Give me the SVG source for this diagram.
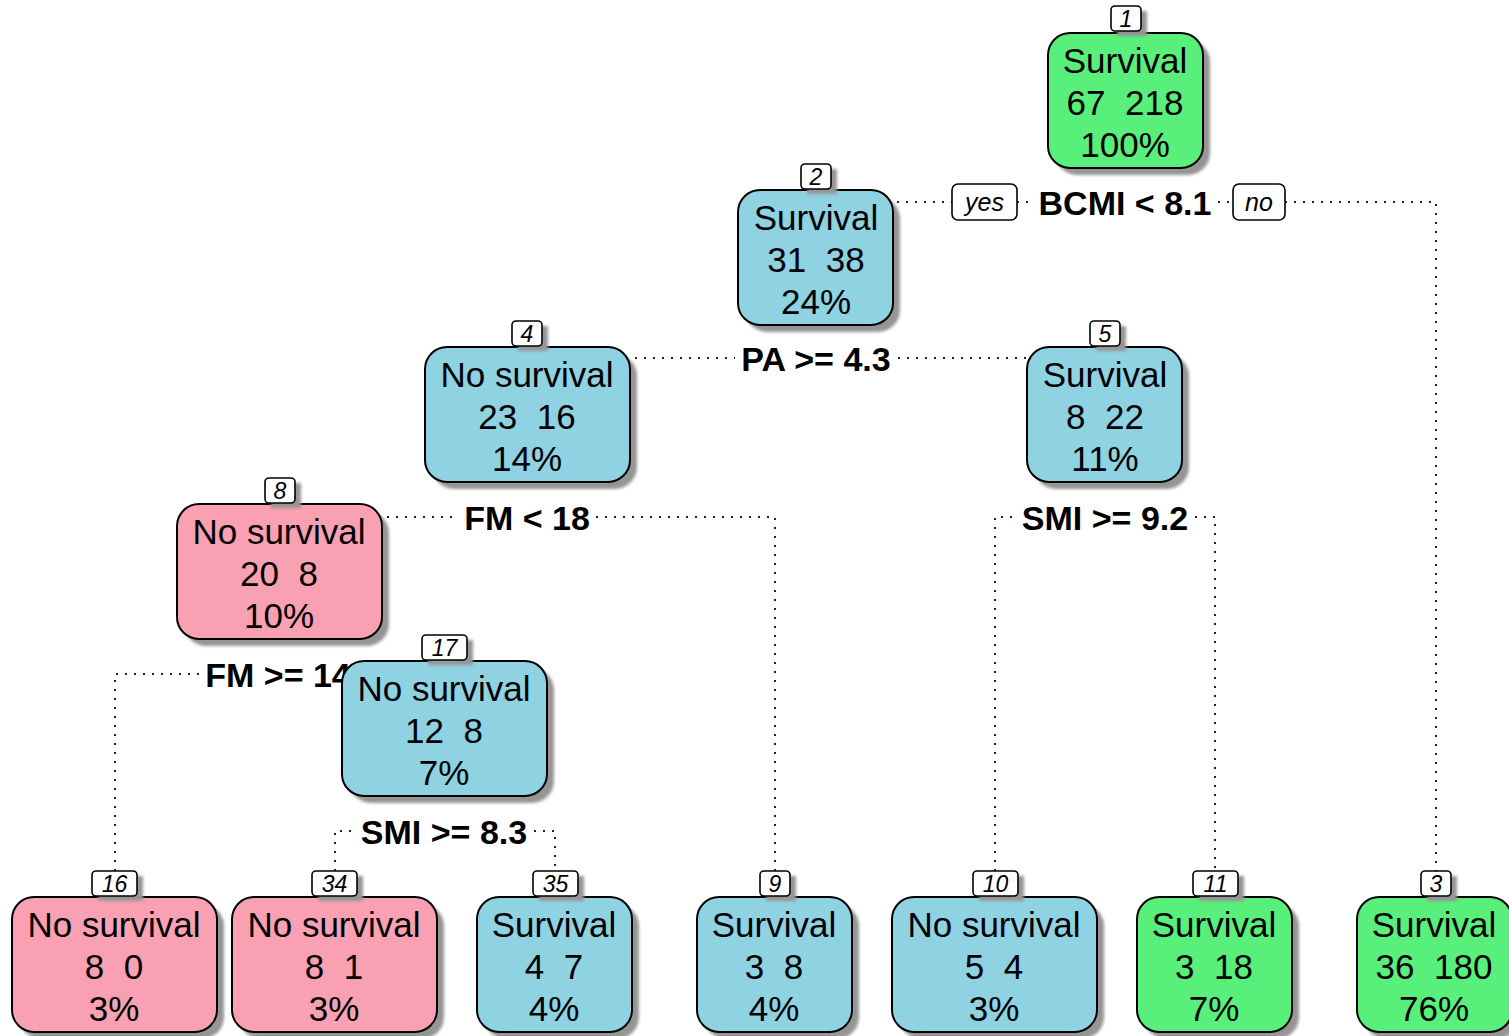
<svg xmlns="http://www.w3.org/2000/svg" width="1509" height="1036" viewBox="0 0 1509 1036" xml:space="preserve">
  <defs>
    <filter id="soft" x="-10%" y="-10%" width="130%" height="130%">
      <feGaussianBlur stdDeviation="1.5"/>
    </filter>
  </defs>
  <style>
    .box { stroke: #000; stroke-width: 2; }
    .green { fill: #58EF7A; }
    .blue { fill: #8FD2E2; }
    .pink { fill: #F9A0B2; }
    .shadow { fill: #959595; filter: url(#soft); }
    .tag { fill: #fff; stroke: #000; stroke-width: 1.6; }
    .txt { font-family: "Liberation Sans", Arial, sans-serif; font-size: 35px; fill: #000; text-anchor: middle; white-space: pre; }
    .num { font-family: "Liberation Sans", Arial, sans-serif; font-size: 23px; font-style: italic; fill: #000; text-anchor: middle; }
    .yn { font-family: "Liberation Sans", Arial, sans-serif; font-size: 25px; font-style: italic; fill: #000; text-anchor: middle; }
    .split { font-family: "Liberation Sans", Arial, sans-serif; font-size: 34px; font-weight: bold; fill: #000; text-anchor: middle; }
    .dot { fill: none; stroke: #222; stroke-width: 2; stroke-dasharray: 2 7; }
  </style>

  <!-- dotted split connectors -->
  <g id="connectors">
    <path class="dot" d="M816,202 H952 M1017,202 H1032 M1218,202 H1233 M1285,202 H1436 V871"/>
    <path class="dot" d="M527,358 H735 M898,358 H1105"/>
    <path class="dot" d="M279,517 H458 M596,517 H775 V871"/>
    <path class="dot" d="M995,871 V517 H1015 M1195,517 H1215 V871"/>
    <path class="dot" d="M115,871 V674 H200"/>
    <path class="dot" d="M335,871 V831 H355 M534,831 H555 V871"/>
  </g>

  <!-- split labels -->
  <g id="split-labels">
    <rect class="tag" x="952" y="184" width="65" height="36" rx="6"/>
    <text class="yn" x="984.5" y="211">yes</text>
    <text class="split" x="1125" y="215">BCMI &lt; 8.1</text>
    <rect class="tag" x="1233" y="184" width="52" height="36" rx="6"/>
    <text class="yn" x="1259" y="211">no</text>
    <text class="split" x="816" y="371">PA &gt;= 4.3</text>
    <text class="split" x="527" y="530">FM &lt; 18</text>
    <text class="split" x="1105" y="530">SMI &gt;= 9.2</text>
    <text class="split" x="278" y="687">FM &gt;= 14</text>
    <text class="split" x="444" y="844">SMI &gt;= 8.3</text>
  </g>

  <!-- node 1 -->
  <g id="node1">
    <rect class="shadow" x="1055" y="40" width="155" height="135" rx="22"/>
    <rect class="box green" x="1048" y="33" width="155" height="135" rx="22"/>
    <rect class="shadow" x="1117" y="11" width="30" height="25"/>
    <rect class="tag" x="1111" y="6" width="30" height="25" rx="4"/>
    <text class="num" x="1126" y="27">1</text>
    <text class="txt" x="1125" y="73">Survival</text>
    <text class="txt" x="1125" y="115">67  218</text>
    <text class="txt" x="1125" y="157">100%</text>
  </g>

  <!-- node 2 -->
  <g id="node2">
    <rect class="shadow" x="745" y="197" width="155" height="135" rx="22"/>
    <rect class="box blue" x="738" y="190" width="155" height="135" rx="22"/>
    <rect class="shadow" x="807" y="169" width="30" height="25"/>
    <rect class="tag" x="801" y="164" width="30" height="25" rx="4"/>
    <text class="num" x="816" y="185">2</text>
    <text class="txt" x="816" y="230">Survival</text>
    <text class="txt" x="816" y="272">31  38</text>
    <text class="txt" x="816" y="314">24%</text>
  </g>

  <!-- node 4 -->
  <g id="node4">
    <rect class="shadow" x="432" y="354" width="205" height="135" rx="22"/>
    <rect class="box blue" x="425" y="347" width="205" height="135" rx="22"/>
    <rect class="shadow" x="518" y="326" width="30" height="25"/>
    <rect class="tag" x="512" y="321" width="30" height="25" rx="4"/>
    <text class="num" x="527" y="342">4</text>
    <text class="txt" x="527" y="387">No survival</text>
    <text class="txt" x="527" y="429">23  16</text>
    <text class="txt" x="527" y="471">14%</text>
  </g>

  <!-- node 5 -->
  <g id="node5">
    <rect class="shadow" x="1034" y="354" width="155" height="135" rx="22"/>
    <rect class="box blue" x="1027" y="347" width="155" height="135" rx="22"/>
    <rect class="shadow" x="1096" y="326" width="30" height="25"/>
    <rect class="tag" x="1090" y="321" width="30" height="25" rx="4"/>
    <text class="num" x="1105" y="342">5</text>
    <text class="txt" x="1105" y="387">Survival</text>
    <text class="txt" x="1105" y="429">8  22</text>
    <text class="txt" x="1105" y="471">11%</text>
  </g>

  <!-- node 8 -->
  <g id="node8">
    <rect class="shadow" x="184" y="511" width="205" height="135" rx="22"/>
    <rect class="box pink" x="177" y="504" width="205" height="135" rx="22"/>
    <rect class="shadow" x="271" y="483" width="30" height="25"/>
    <rect class="tag" x="265" y="478" width="30" height="25" rx="4"/>
    <text class="num" x="280" y="499">8</text>
    <text class="txt" x="279" y="544">No survival</text>
    <text class="txt" x="279" y="586">20  8</text>
    <text class="txt" x="279" y="628">10%</text>
  </g>

  <!-- node 17 -->
  <g id="node17">
    <rect class="shadow" x="349" y="668" width="205" height="135" rx="22"/>
    <rect class="box blue" x="342" y="661" width="205" height="135" rx="22"/>
    <rect class="shadow" x="428" y="640" width="45" height="25"/>
    <rect class="tag" x="422" y="635" width="45" height="25" rx="4"/>
    <text class="num" x="444.5" y="656">17</text>
    <text class="txt" x="444" y="701">No survival</text>
    <text class="txt" x="444" y="743">12  8</text>
    <text class="txt" x="444" y="785">7%</text>
  </g>

  <!-- node 16 -->
  <g id="node16">
    <rect class="shadow" x="19" y="904" width="205" height="135" rx="22"/>
    <rect class="box pink" x="12" y="897" width="205" height="135" rx="22"/>
    <rect class="shadow" x="98" y="876" width="45" height="25"/>
    <rect class="tag" x="92" y="871" width="45" height="25" rx="4"/>
    <text class="num" x="114.5" y="892">16</text>
    <text class="txt" x="114" y="937">No survival</text>
    <text class="txt" x="114" y="979">8  0</text>
    <text class="txt" x="114" y="1021">3%</text>
  </g>

  <!-- node 34 -->
  <g id="node34">
    <rect class="shadow" x="239" y="904" width="205" height="135" rx="22"/>
    <rect class="box pink" x="232" y="897" width="205" height="135" rx="22"/>
    <rect class="shadow" x="318" y="876" width="45" height="25"/>
    <rect class="tag" x="312" y="871" width="45" height="25" rx="4"/>
    <text class="num" x="334.5" y="892">34</text>
    <text class="txt" x="334" y="937">No survival</text>
    <text class="txt" x="334" y="979">8  1</text>
    <text class="txt" x="334" y="1021">3%</text>
  </g>

  <!-- node 35 -->
  <g id="node35">
    <rect class="shadow" x="484" y="904" width="155" height="135" rx="22"/>
    <rect class="box blue" x="477" y="897" width="155" height="135" rx="22"/>
    <rect class="shadow" x="539" y="876" width="45" height="25"/>
    <rect class="tag" x="533" y="871" width="45" height="25" rx="4"/>
    <text class="num" x="555.5" y="892">35</text>
    <text class="txt" x="554" y="937">Survival</text>
    <text class="txt" x="554" y="979">4  7</text>
    <text class="txt" x="554" y="1021">4%</text>
  </g>

  <!-- node 9 -->
  <g id="node9">
    <rect class="shadow" x="704" y="904" width="155" height="135" rx="22"/>
    <rect class="box blue" x="697" y="897" width="155" height="135" rx="22"/>
    <rect class="shadow" x="766" y="876" width="30" height="25"/>
    <rect class="tag" x="760" y="871" width="30" height="25" rx="4"/>
    <text class="num" x="775" y="892">9</text>
    <text class="txt" x="774" y="937">Survival</text>
    <text class="txt" x="774" y="979">3  8</text>
    <text class="txt" x="774" y="1021">4%</text>
  </g>

  <!-- node 10 -->
  <g id="node10">
    <rect class="shadow" x="899" y="904" width="205" height="135" rx="22"/>
    <rect class="box blue" x="892" y="897" width="205" height="135" rx="22"/>
    <rect class="shadow" x="979" y="876" width="45" height="25"/>
    <rect class="tag" x="973" y="871" width="45" height="25" rx="4"/>
    <text class="num" x="995.5" y="892">10</text>
    <text class="txt" x="994" y="937">No survival</text>
    <text class="txt" x="994" y="979">5  4</text>
    <text class="txt" x="994" y="1021">3%</text>
  </g>

  <!-- node 11 -->
  <g id="node11">
    <rect class="shadow" x="1144" y="904" width="155" height="135" rx="22"/>
    <rect class="box green" x="1137" y="897" width="155" height="135" rx="22"/>
    <rect class="shadow" x="1199" y="876" width="45" height="25"/>
    <rect class="tag" x="1193" y="871" width="45" height="25" rx="4"/>
    <text class="num" x="1215.5" y="892">11</text>
    <text class="txt" x="1214" y="937">Survival</text>
    <text class="txt" x="1214" y="979">3  18</text>
    <text class="txt" x="1214" y="1021">7%</text>
  </g>

  <!-- node 3 -->
  <g id="node3">
    <rect class="shadow" x="1364" y="904" width="155" height="135" rx="22"/>
    <rect class="box green" x="1357" y="897" width="155" height="135" rx="22"/>
    <rect class="shadow" x="1427" y="876" width="30" height="25"/>
    <rect class="tag" x="1421" y="871" width="30" height="25" rx="4"/>
    <text class="num" x="1436" y="892">3</text>
    <text class="txt" x="1434" y="937">Survival</text>
    <text class="txt" x="1434" y="979">36  180</text>
    <text class="txt" x="1434" y="1021">76%</text>
  </g>
</svg>
